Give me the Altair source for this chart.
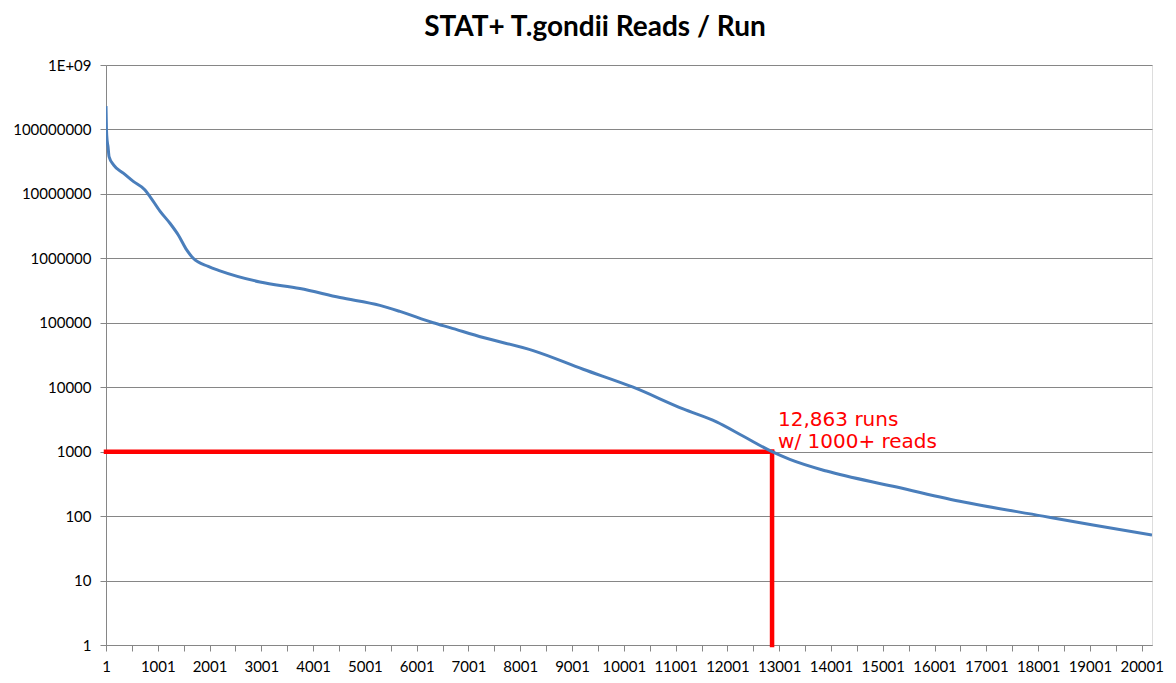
import altair as alt
import pandas as pd

# Curve (run rank, reads)
runs = [1, 10, 25, 40, 60, 150, 335, 528, 754, 850, 1043, 1236, 1397, 1559, 1686,
        1976, 2202, 2974, 3746, 4518, 5290, 5677, 6320, 6642, 7285, 8250, 9215,
        10180, 11146, 11790, 12300, 12863, 13206, 13913, 15200, 16488, 18095,
        19060, 20200]
reads = [2.3e8, 1.0e8, 6.5e7, 5.4e7, 3.8e7, 2.8e7, 2.1e7, 1.56e7, 1.15e7, 9.1e6,
         5.4e6, 3.5e6, 2.3e6, 1.35e6, 1.0e6, 7.5e5, 6.4e5, 4.3e5, 3.4e5, 2.46e5,
         1.86e5, 1.5e5, 1.0e5, 8.4e4, 5.9e4, 3.7e4, 1.9e4, 1.0e4, 4.6e3, 2.9e3,
         1.75e3, 1.0e3, 760, 500, 290, 170, 100, 73, 51]

# Threshold annotation
threshold_run = [12863]
threshold_reads = [1000]
start_run = [1]
floor_reads = [1]
note_lines = [["12,863 runs", "w/ 1000+ reads"]]

x_ticks = list(range(1, 20002, 500))
y_ticks = [1, 10, 100, 1000, 10000, 100000, 1000000, 10000000, 100000000, 1000000000]

df = pd.DataFrame({"run": runs, "reads": reads})
hdf = pd.DataFrame({"x": start_run, "x2": threshold_run, "y": threshold_reads})
vdf = pd.DataFrame({"x": threshold_run, "y": floor_reads, "y2": threshold_reads})
tdf = pd.DataFrame({"x": threshold_run, "y": threshold_reads, "t": note_lines})

GRID = "#868686"
xscale = alt.Scale(domain=[1, 20200], nice=False, zero=False)
yscale = alt.Scale(type="log", domain=[1, 1e9], nice=False)

xaxis = alt.Axis(
    values=x_ticks,
    labelExpr="(datum.value - 1) % 1000 == 0 ? format(datum.value, 'd') : ''",
    grid=False, title=None, labelFlush=False, labelOverlap=False,
    tickSize=6, labelPadding=8, domainColor=GRID, tickColor=GRID,
    labelFont="Lato", labelFontSize=15, labelColor="#000000",
)
yaxis = alt.Axis(
    values=y_ticks,
    labelExpr="datum.value >= 1e9 ? '1E+09' : format(datum.value, 'd')",
    grid=True, gridColor=GRID, gridOpacity=1, gridWidth=1,
    title=None, labelFlush=False, labelOverlap=False,
    tickSize=6, labelPadding=9, domainColor=GRID, tickColor=GRID,
    labelFont="Lato", labelFontSize=15, labelColor="#000000",
)

hline = alt.Chart(hdf).mark_rule(color="#FF0000", strokeWidth=4.5, strokeCap="square").encode(
    x=alt.X("x:Q", scale=xscale, axis=xaxis), x2="x2:Q",
    y=alt.Y("y:Q", scale=yscale, axis=yaxis),
)
vline = alt.Chart(vdf).mark_rule(color="#FF0000", strokeWidth=4.5, strokeCap="square").encode(
    x=alt.X("x:Q", scale=xscale, axis=xaxis),
    y=alt.Y("y:Q", scale=yscale, axis=yaxis), y2="y2:Q",
)
curve = alt.Chart(df).mark_line(color="#4A7EBB", strokeWidth=3, clip=True,
                                interpolate="monotone").encode(
    x=alt.X("run:Q", scale=xscale, axis=xaxis),
    y=alt.Y("reads:Q", scale=yscale, axis=yaxis),
)
note = alt.Chart(tdf).mark_text(
    color="#FF0000", font="DejaVu Sans", fontSize=20, align="left",
    baseline="alphabetic", dx=6, dy=-26, lineHeight=22.5,
).encode(
    x=alt.X("x:Q", scale=xscale, axis=xaxis),
    y=alt.Y("y:Q", scale=yscale, axis=yaxis),
    text="t",
)

chart = alt.layer(hline, vline, curve, note).properties(
    width=1046, height=580,
    title=alt.TitleParams(
        "STAT+ T.gondii Reads / Run", font="Lato", fontSize=28, fontWeight="bold",
        color="#000000", anchor="middle", frame="group", dx=-34, offset=16,
    ),
    autosize=alt.AutoSizeParams(type="none"),
    padding={"left": 106, "top": 65, "right": 24, "bottom": 38},
).configure_view(stroke=None).configure(background="white")

chart.save("out.html", embed_options={"renderer": "svg", "actions": False})
